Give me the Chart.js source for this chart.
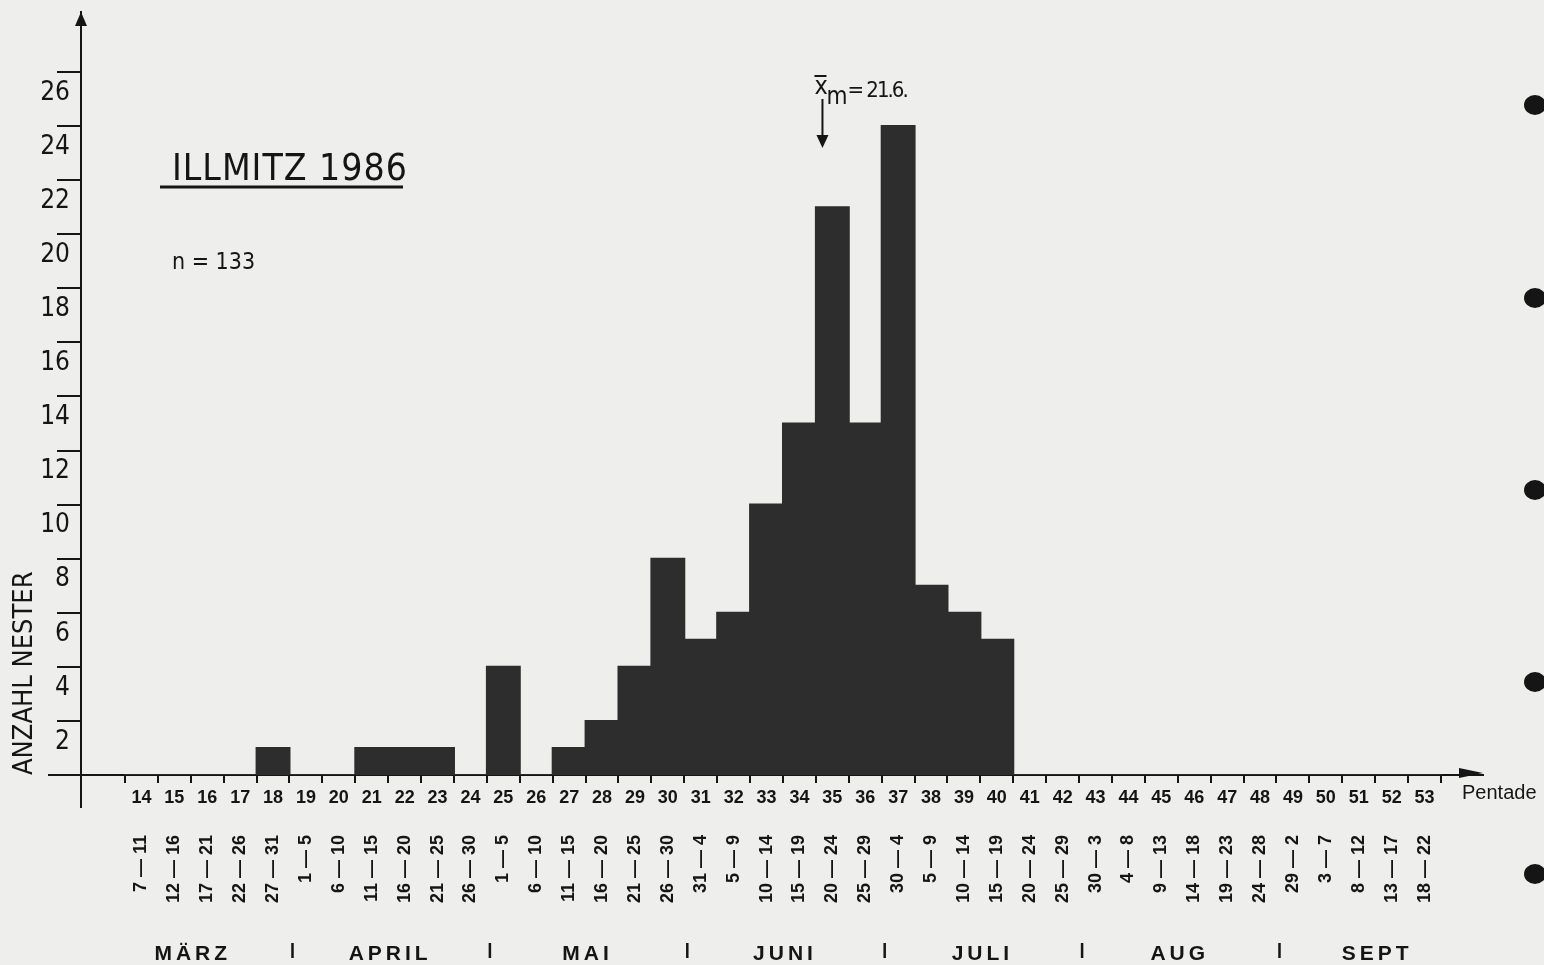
<!DOCTYPE html>
<html>
<head>
<meta charset="utf-8">
<script src="https://cdn.jsdelivr.net/npm/chart.js@4"></script>
<style>
  html, body { margin: 0; padding: 0; background: #eeeeec; }
  canvas { display: block; }
</style>
</head>
<body>
<canvas id="chart" width="1544" height="965"></canvas>
<script>
// Pentaden (5-Tage-Perioden) und Anzahl der Nester je Pentade
const pentades = [14, 15, 16, 17, 18, 19, 20, 21, 22, 23, 24, 25, 26, 27, 28, 29, 30, 31, 32, 33,
                  34, 35, 36, 37, 38, 39, 40, 41, 42, 43, 44, 45, 46, 47, 48, 49, 50, 51, 52, 53];
const nests = [0, 0, 0, 0, 1, 0, 0, 1, 1, 1, 0, 4, 0, 1, 2, 4, 8, 5, 6, 10,
               13, 21, 13, 24, 7, 6, 5, 0, 0, 0, 0, 0, 0, 0, 0, 0, 0, 0, 0, 0];
const dateRanges = ['7 — 11', '12 — 16', '17 — 21', '22 — 26', '27 — 31', '1 — 5', '6 — 10', '11 — 15',
                    '16 — 20', '21 — 25', '26 — 30', '1 — 5', '6 — 10', '11 — 15', '16 — 20', '21 — 25',
                    '26 — 30', '31 — 4', '5 — 9', '10 — 14', '15 — 19', '20 — 24', '25 — 29', '30 — 4',
                    '5 — 9', '10 — 14', '15 — 19', '20 — 24', '25 — 29', '30 — 3', '4 — 8', '9 — 13',
                    '14 — 18', '19 — 23', '24 — 28', '29 — 2', '3 — 7', '8 — 12', '13 — 17', '18 — 22'];
const yTicks = [2, 4, 6, 8, 10, 12, 14, 16, 18, 20, 22, 24, 26];

// Monate mit ihrer ersten und letzten Pentade
const months = ['MÄRZ', 'APRIL', 'MAI', 'JUNI', 'JULI', 'AUG', 'SEPT'];
const monthFirstPentade = [13, 19, 25, 31, 37, 43, 49];
const monthLastPentade = [18, 24, 30, 36, 42, 48, 54];

const titleText = 'ILLMITZ 1986';
const sampleText = 'n = 133';
// Mittleres Datum: 21. Juni (Tag 172 des Jahres)
const meanLabel = '= 21.6.';
const meanDayOfYear = 31 + 28 + 31 + 30 + 31 + 21;
const meanPentade = 0.5 + (meanDayOfYear - 1) / 5;

// Achsenbereich
const xMin = 12.163, xMax = 54.777;
const yMin = 0, yMax = 28.22;

const INK = '#151515';
const tickBounds = pentades.map(p => p - 0.5).concat([pentades[pentades.length - 1] + 0.5]);

const paper = {
  id: 'paper',
  beforeDraw(chart) {
    const ctx = chart.ctx;
    ctx.save();
    ctx.fillStyle = '#eeeeec';
    ctx.fillRect(0, 0, chart.width, chart.height);
    ctx.restore();
  }
};

const decorations = {
  id: 'decorations',
  afterDraw(chart) {
    const ctx = chart.ctx;
    const a = chart.chartArea;
    const xs = chart.scales.x;
    ctx.save();
    ctx.strokeStyle = INK;
    ctx.fillStyle = INK;
    ctx.lineWidth = 2;

    // Achsenverlängerungen
    ctx.beginPath();
    ctx.moveTo(48, a.bottom);
    ctx.lineTo(a.left, a.bottom);
    ctx.moveTo(a.left, a.bottom);
    ctx.lineTo(a.left, a.bottom + 33);
    ctx.stroke();

    // Pfeilspitzen
    ctx.beginPath();
    ctx.moveTo(a.left, a.top);
    ctx.lineTo(a.left - 6, a.top + 14);
    ctx.lineTo(a.left + 6, a.top + 14);
    ctx.closePath();
    ctx.fill();
    ctx.beginPath();
    ctx.moveTo(a.right, a.bottom - 2);
    ctx.lineTo(a.right - 24, a.bottom - 7);
    ctx.lineTo(a.right - 24, a.bottom + 3);
    ctx.closePath();
    ctx.fill();

    // Titel
    ctx.textBaseline = 'alphabetic';
    ctx.textAlign = 'left';
    ctx.font = '37px "DejaVu Sans Condensed"';
    ctx.letterSpacing = '1px';
    ctx.fillText(titleText, 172, 180);
    ctx.letterSpacing = '0px';
    ctx.lineWidth = 3;
    ctx.beginPath();
    ctx.moveTo(160, 187);
    ctx.lineTo(403, 187);
    ctx.stroke();
    ctx.font = '23px "DejaVu Sans Condensed"';
    ctx.fillText(sampleText, 172, 269);

    // Mittelwert-Markierung
    const ax = xs.getPixelForValue(meanPentade);
    ctx.font = '25px "DejaVu Sans Condensed"';
    ctx.fillText('x', ax - 8, 94);
    ctx.lineWidth = 2;
    ctx.beginPath();
    ctx.moveTo(ax - 8, 76);
    ctx.lineTo(ax + 4, 76);
    ctx.stroke();
    ctx.font = '24px "DejaVu Sans Condensed"';
    ctx.fillText('m', ax + 4, 104);
    ctx.font = '22px "DejaVu Sans Condensed"';
    ctx.letterSpacing = '-2px';
    ctx.fillText(meanLabel, ax + 25, 97);
    ctx.letterSpacing = '0px';
    ctx.beginPath();
    ctx.moveTo(ax, 99);
    ctx.lineTo(ax, 137);
    ctx.stroke();
    ctx.beginPath();
    ctx.moveTo(ax, 148);
    ctx.lineTo(ax - 6, 135);
    ctx.lineTo(ax + 6, 135);
    ctx.closePath();
    ctx.fill();

    // Monatszeile
    ctx.font = 'bold 21px "Liberation Sans"';
    ctx.textAlign = 'center';
    ctx.letterSpacing = '4px';
    months.forEach((m, i) => {
      const c = xs.getPixelForValue((monthFirstPentade[i] + monthLastPentade[i]) / 2);
      ctx.fillText(m, c + 2, 960);
      if (i > 0) {
        const s = xs.getPixelForValue(monthFirstPentade[i] - 0.5) + 3;
        ctx.lineWidth = 2.5;
        ctx.beginPath();
        ctx.moveTo(s, 943);
        ctx.lineTo(s, 958);
        ctx.stroke();
      }
    });
    ctx.letterSpacing = '0px';

    // Achsenbeschriftung rechts
    ctx.textAlign = 'left';
    ctx.font = '20px "Liberation Sans"';
    ctx.fillText('Pentade', 1462, 799);

    // Lochrand
    [105, 298, 490, 682, 874].forEach(y => {
      ctx.beginPath();
      ctx.ellipse(1535, y, 11, 10, 0, 0, Math.PI * 2);
      ctx.fill();
    });
    ctx.restore();
  }
};

new Chart(document.getElementById('chart'), {
  type: 'bar',
  data: {
    datasets: [{
      data: pentades.map((p, i) => ({ x: p, y: nests[i] })),
      backgroundColor: '#2d2d2d',
      borderWidth: 0,
      inflateAmount: 1,
      barPercentage: 1,
      categoryPercentage: 1
    }]
  },
  options: {
    responsive: false,
    animation: false,
    devicePixelRatio: 1,
    layout: { padding: { top: 12, right: 61, bottom: 46, left: 0 } },
    plugins: { legend: { display: false }, tooltip: { enabled: false } },
    scales: {
      x: {
        type: 'linear', position: 'bottom', min: xMin, max: xMax, offset: false, weight: 1,
        afterBuildTicks: s => { s.ticks = tickBounds.map(v => ({ value: v })); },
        afterFit: s => { s.height = 10; },
        ticks: { display: false },
        grid: { offset: false, drawOnChartArea: false, drawTicks: true, tickLength: 8, color: INK, lineWidth: 2 },
        border: { display: true, color: INK, width: 2 }
      },
      x2: {
        type: 'linear', position: 'bottom', min: xMin, max: xMax, offset: false, weight: 2,
        afterBuildTicks: s => { s.ticks = pentades.map(v => ({ value: v })); },
        afterFit: s => { s.height = 24; },
        ticks: {
          autoSkip: false, minRotation: 0, maxRotation: 0, padding: 2, color: INK,
          font: { family: 'Liberation Sans', size: 18, weight: 'bold' },
          callback: v => String(v)
        },
        grid: { display: false, drawTicks: false, offset: false },
        border: { display: false }
      },
      x3: {
        type: 'linear', position: 'bottom', min: xMin, max: xMax, offset: false, weight: 3,
        afterBuildTicks: s => { s.ticks = pentades.map(v => ({ value: v })); },
        afterFit: s => { s.height = 110; },
        ticks: {
          autoSkip: false, minRotation: 90, maxRotation: 90, padding: 26, color: INK,
          font: { family: 'Liberation Sans', size: 18, weight: 'bold' },
          callback: (v, i) => dateRanges[i]
        },
        grid: { display: false, drawTicks: false, offset: false },
        border: { display: false }
      },
      y: {
        type: 'linear', position: 'left', min: yMin, max: yMax,
        afterBuildTicks: s => { s.ticks = yTicks.map(v => ({ value: v })); },
        afterFit: s => { s.width = 81; },
        ticks: {
          labelOffset: 21, padding: -13, color: INK,
          font: { family: 'DejaVu Sans Condensed', size: 26 },
          callback: v => String(v)
        },
        grid: { drawOnChartArea: false, drawTicks: true, tickLength: 24, color: INK, lineWidth: 2 },
        border: { display: true, color: INK, width: 2 },
        title: {
          display: true, text: 'ANZAHL NESTER', align: 'start', color: INK,
          padding: { top: 9, bottom: 0 },
          font: { family: 'DejaVu Sans Condensed', size: 27 }
        }
      }
    }
  },
  plugins: [paper, decorations]
});
</script>
</body>
</html>
